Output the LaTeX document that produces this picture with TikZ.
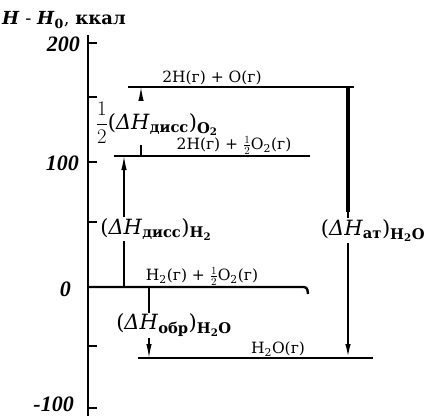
\documentclass[tikz,border=0pt]{standalone}
\usepackage{amsmath}
\usepackage{fontspec}
\setmainfont{DejaVu Serif}
\newfontfamily\numfont{Liberation Serif}
\usetikzlibrary{arrows.meta,positioning}
\newcommand{\dH}[1]{(\textit{ΔH}\textsubscript{\textbf{#1}})}

\begin{document}
\begin{tikzpicture}[
  x=1pt, y=-1pt,
  axis/.style={line width=2.6pt},
  tck/.style={line width=1.6pt},
  lvl/.style={line width=2.4pt},
  enr/.style={-{Latex[length=14pt,width=5.5pt]}, line width=1.3pt},
  val/.style={anchor=east, inner sep=0pt, font=\fontsize{22}{22}\numfont\bfseries\itshape},
  spc/.style={anchor=south, inner sep=1.5pt, font=\fontsize{15.5}{16}\selectfont},
  dhl/.style={fill=white, inner sep=1pt, font=\fontsize{21}{22}\selectfont}
]
\useasboundingbox (0,0) rectangle (431,416);

\node[anchor=west, inner sep=0pt, font=\fontsize{18}{18}\selectfont] (ttl) at (2,20)
  {\textbf{\textit{H}} - \textbf{\textit{H}}\textsubscript{\textbf{0}}, \textbf{ккал}};

\draw[axis] (88,35) -- (88,416);
\foreach \v in {43,97,162,222,287,346,408} \draw[tck] (88,\v) -- (97,\v);
\node[val] (v200)  at (80,44)  {200};
\node[val] (v100)  at (79,163) {100};
\node[val] (v0)    at (71,289) {0};
\node[val] (vm100) at (74,404) {-100};

\draw[lvl] (128,87) -- (141,87) coordinate (o2top) -- (348,87) coordinate (attop) -- (354,87);
\draw[lvl] (114,156) -- (124,156) coordinate (h2top) -- (141,156) coordinate (o2bot) -- (310,156);
\draw[lvl, rounded corners=3pt] (88,287) -- (124,287) coordinate (h2bot) -- (149,287) coordinate (obrtop) -- (307,287) -- (308,294);
\draw[lvl] (138,358) -- (149,358) coordinate (obrbot) -- (348,358) coordinate (atbot) -- (373,358);

\draw[enr] (h2bot) -- node[dhl, pos=0.44, xshift=32pt] (dhh2)
  {\dH{дисс}\textsubscript{\textbf{H\textsubscript{2}}}} (h2top);
\draw[enr] (o2bot) -- node[dhl, pos=0.48, xshift=16pt] (dho2)
  {$\dfrac{1}{2}$\dH{дисс}\textsubscript{\textbf{O\textsubscript{2}}}} (o2top);
\draw[enr] (obrtop) -- node[dhl, pos=0.54, xshift=25pt] (dhobr)
  {\dH{обр}\textsubscript{\textbf{H\textsubscript{2}O}}} (obrbot);
\draw[line width=4.5pt] (attop) -- ++(0,125);
\draw[enr, line width=2pt] (attop) -- node[dhl, pos=0.53, xshift=25pt] (dhat)
  {\dH{ат}\textsubscript{\textbf{H\textsubscript{2}O}}} (atbot);

\node[spc] (s1) at (212,87)  {2H(г) + O(г)};
\node[spc] (s2) at (234,156) {2H(г) + $\frac{1}{2}$O\textsubscript{2}(г)};
\node[spc] (s3) at (202,287) {H\textsubscript{2}(г) + $\frac{1}{2}$O\textsubscript{2}(г)};
\node[spc] (s4) at (278,358) {H\textsubscript{2}O(г)};
\end{tikzpicture}
\end{document}
